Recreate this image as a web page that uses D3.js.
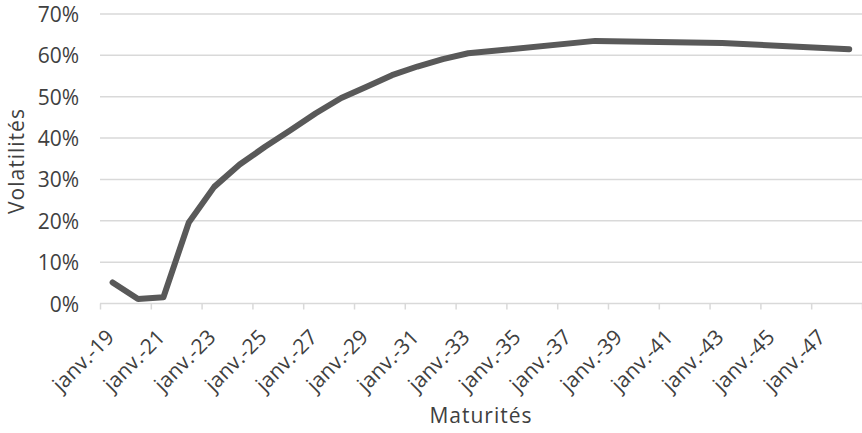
<!DOCTYPE html>
<html>
<head>
<meta charset="utf-8">
<script src="https://cdn.jsdelivr.net/npm/d3@7"></script>
<style>
  html, body { margin: 0; padding: 0; background: #fff; }
  svg { display: block; }
  text { font-family: "Open Sans", sans-serif; fill: #404040; }
</style>
</head>
<body>
<svg id="chart" width="862" height="433"></svg>
<script>
// ---- data ----
const maturities = ["2019-07-01","2020-07-01","2021-07-01","2022-07-01","2023-07-01","2024-07-01",
  "2025-07-01","2026-07-01","2027-07-01","2028-07-01","2029-07-01","2030-07-01","2031-07-01",
  "2032-07-01","2033-07-01","2038-07-01","2043-07-01","2048-07-01"];
const volatilities = [0.051, 0.011, 0.015, 0.196, 0.282, 0.336, 0.379, 0.419, 0.460, 0.497,
  0.524, 0.552, 0.573, 0.591, 0.605, 0.635, 0.630, 0.615];
const yTicks = [0, 0.1, 0.2, 0.3, 0.4, 0.5, 0.6, 0.7];
const xTickDates = ["2019-01-01","2021-01-01","2023-01-01","2025-01-01","2027-01-01","2029-01-01",
  "2031-01-01","2033-01-01","2035-01-01","2037-01-01","2039-01-01","2041-01-01","2043-01-01",
  "2045-01-01","2047-01-01","2049-01-01"];
const xTickLabels = ["janv.-19","janv.-21","janv.-23","janv.-25","janv.-27","janv.-29","janv.-31",
  "janv.-33","janv.-35","janv.-37","janv.-39","janv.-41","janv.-43","janv.-45","janv.-47",""];
const xTitle = "Maturités";
const yTitle = "Volatilités";

// ---- layout ----
const parse = d3.timeParse("%Y-%m-%d");
const svg = d3.select("#chart");
const mLeft = 100, mRight = 862, mTop = 14, mBottom = 303.5;

const x = d3.scaleTime()
  .domain([parse("2019-01-01"), parse("2049-01-01")])
  .range([mLeft, mRight]);
const y = d3.scaleLinear().domain([0, 0.7]).range([mBottom, mTop]);

// gridlines
svg.append("g").selectAll("line").data(yTicks.slice(1)).join("line")
  .attr("x1", mLeft).attr("x2", mRight)
  .attr("y1", d => y(d)).attr("y2", d => y(d))
  .attr("stroke", "#d9d9d9").attr("stroke-width", 1.5);

// y axis labels
const yAxis = d3.axisLeft(y).tickValues(yTicks).tickFormat(d3.format(".0%")).tickSize(0).tickPadding(0);
const yg = svg.append("g").attr("transform", `translate(79,0)`).call(yAxis);
yg.select(".domain").remove();
yg.selectAll("text").attr("font-size", 21).attr("fill", "#404040")
  .style("font-family", "'Open Sans', sans-serif").attr("dy", "0.36em");

// x axis
const tickDates = xTickDates.map(parse);
const xAxis = d3.axisBottom(x).tickValues(tickDates).tickSize(6)
  .tickFormat((d, i) => xTickLabels[i]);
const xg = svg.append("g").attr("transform", `translate(0,${mBottom})`).call(xAxis);
xg.select(".domain").attr("stroke", "#d9d9d9").attr("stroke-width", 1.5)
  .attr("d", `M${mLeft},0H${mRight}`);
xg.selectAll(".tick line").attr("stroke", "#d9d9d9").attr("stroke-width", 1.5);
xg.selectAll(".tick text")
  .attr("font-size", 21).attr("fill", "#404040")
  .style("font-family", "'Open Sans', sans-serif")
  .attr("text-anchor", "end")
  .attr("dy", null).attr("y", null)
  .attr("transform", "translate(15,35) rotate(-45)");

// line
const line = d3.line()
  .x((d, i) => x(parse(maturities[i])))
  .y(d => y(d));
svg.append("path").datum(volatilities)
  .attr("d", line)
  .attr("fill", "none").attr("stroke", "#595959")
  .attr("stroke-width", 6).attr("stroke-linejoin", "round").attr("stroke-linecap", "round");

// titles
svg.append("text").attr("x", (mLeft + mRight) / 2).attr("y", 423)
  .attr("text-anchor", "middle").attr("font-size", 21).attr("letter-spacing", 1).text(xTitle);
svg.append("text").attr("transform", `translate(24,${161}) rotate(-90)`)
  .attr("text-anchor", "middle").attr("font-size", 21).attr("letter-spacing", 1).text(yTitle);
</script>
</body>
</html>
